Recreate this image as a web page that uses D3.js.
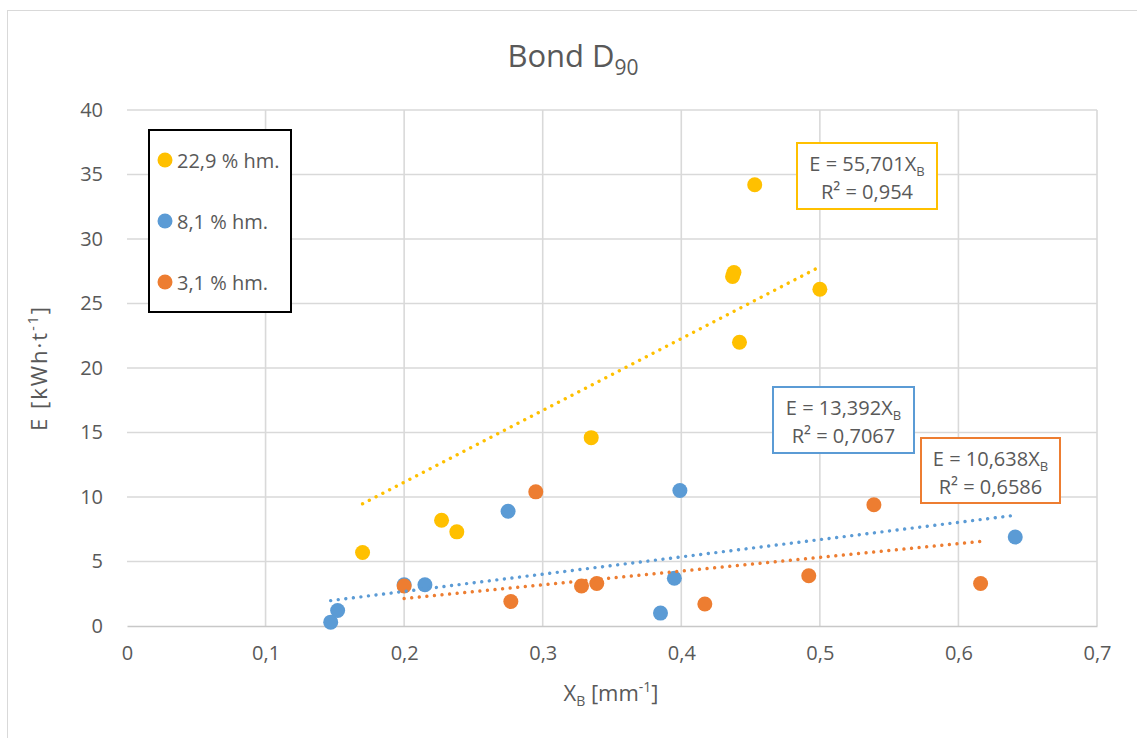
<!DOCTYPE html>
<html>
<head>
<meta charset="utf-8">
<script src="https://cdn.jsdelivr.net/npm/d3@7"></script>
<style>
  html, body { margin: 0; padding: 0; background: #fff; }
  svg { display: block; font-family: "Open Sans", sans-serif; }
</style>
</head>
<body>
<svg id="chart" width="1137" height="738"></svg>
<script>
// Series: specific energy E versus Bond parameter X_B, by moisture content
const seriesNames = ["22,9 % hm.", "8,1 % hm.", "3,1 % hm."];
const seriesColors = ["#FFC000", "#5B9BD5", "#ED7D31"];

const xHigh = [0.170, 0.227, 0.238, 0.335, 0.437, 0.438, 0.442, 0.453, 0.500];
const eHigh = [5.7, 8.2, 7.3, 14.6, 27.1, 27.4, 22.0, 34.2, 26.1];

const xMid = [0.147, 0.152, 0.200, 0.215, 0.275, 0.385, 0.395, 0.399, 0.641];
const eMid = [0.3, 1.2, 3.2, 3.2, 8.9, 1.0, 3.7, 10.5, 6.9];

const xLow = [0.200, 0.277, 0.295, 0.328, 0.339, 0.417, 0.492, 0.539, 0.616];
const eLow = [3.1, 1.9, 10.4, 3.1, 3.3, 1.7, 3.9, 9.4, 3.3];

// Linear trend lines through the origin (E = k·X_B) and their R²
const slopes = [55.701, 13.392, 10.638];
const slopeLabels = ["55,701", "13,392", "10,638"];
const r2Labels = ["0,954", "0,7067", "0,6586"];

const xTicks = [0, 0.1, 0.2, 0.3, 0.4, 0.5, 0.6, 0.7];
const yTicks = [0, 5, 10, 15, 20, 25, 30, 35, 40];

const xs = [xHigh, xMid, xLow];
const es = [eHigh, eMid, eLow];

const svg = d3.select("#chart");
const W = 1137, H = 738;
const plot = { left: 127, right: 1097, top: 110, bottom: 626 };
const textColor = "#595959";
const gridColor = "#D9D9D9";
const comma = d => String(d).replace(".", ",");

// Chart area frame
svg.append("rect")
  .attr("x", 7.5).attr("y", 10.5)
  .attr("width", W).attr("height", H)
  .attr("fill", "#fff").attr("stroke", gridColor).attr("stroke-width", 1);

const x = d3.scaleLinear().domain([0, 0.7]).range([plot.left, plot.right]);
const y = d3.scaleLinear().domain([0, 40]).range([plot.bottom, plot.top]);

// Grid
const grid = svg.append("g");
grid.selectAll("line.v").data(xTicks.slice(1)).join("line")
  .attr("x1", d => x(d)).attr("x2", d => x(d))
  .attr("y1", plot.top).attr("y2", plot.bottom)
  .attr("stroke", gridColor).attr("stroke-width", 1.6);
grid.selectAll("line.h").data(yTicks.slice(1)).join("line")
  .attr("x1", plot.left).attr("x2", plot.right)
  .attr("y1", d => y(d)).attr("y2", d => y(d))
  .attr("stroke", gridColor).attr("stroke-width", 1.6);

// Axes (labels only, no tick marks)
const xAxis = d3.axisBottom(x).tickValues(xTicks).tickFormat(comma).tickSize(0).tickPadding(20);
const gx = svg.append("g").attr("transform", `translate(0,${plot.bottom})`).call(xAxis);
gx.select(".domain").attr("stroke", "#C8C8C8").attr("stroke-width", 1.6);
gx.selectAll("text").attr("fill", textColor).style("font-size", "20px").style("font-family", "'Open Sans', sans-serif");

const yAxis = d3.axisLeft(y).tickValues(yTicks).tickFormat(comma).tickSize(0).tickPadding(24);
const gy = svg.append("g").attr("transform", `translate(${plot.left},0)`).call(yAxis);
gy.select(".domain").remove();
gy.selectAll("text").attr("fill", textColor).style("font-size", "20px").style("font-family", "'Open Sans', sans-serif");

// Points
xs.forEach((xv, i) => {
  svg.append("g").selectAll("circle").data(xv.map((v, j) => [v, es[i][j]])).join("circle")
    .attr("cx", d => x(d[0])).attr("cy", d => y(d[1])).attr("r", 7.5)
    .attr("fill", seriesColors[i]);
});

// Trend lines over each series' X_B range
xs.forEach((xv, i) => {
  const x0 = d3.min(xv), x1 = d3.max(xv);
  svg.append("line")
    .attr("x1", x(x0)).attr("y1", y(slopes[i] * x0))
    .attr("x2", x(x1)).attr("y2", y(slopes[i] * x1))
    .attr("stroke", seriesColors[i]).attr("stroke-width", 3.4)
    .attr("stroke-linecap", "round").attr("stroke-dasharray", "0.01 7.6");
});

// Equation labels
const eqBoxes = [
  { cx: 867, top: 143, w: 140, h: 66 },
  { cx: 843.5, top: 387, w: 141, h: 66 },
  { cx: 990.5, top: 438, w: 139, h: 65 }
];
eqBoxes.forEach((b, i) => {
  const g = svg.append("g");
  g.append("rect").attr("x", b.cx - b.w / 2).attr("y", b.top).attr("width", b.w).attr("height", b.h)
    .attr("fill", "#fff").attr("stroke", seriesColors[i]).attr("stroke-width", 2);
  const t1 = g.append("text").attr("x", b.cx).attr("y", b.top + 28).attr("text-anchor", "middle")
    .attr("fill", textColor).style("font-size", "20px");
  t1.append("tspan").text(`E = ${slopeLabels[i]}X`);
  t1.append("tspan").attr("dy", 5).style("font-size", "13px").text("B");
  g.append("text").attr("x", b.cx).attr("y", b.top + 56).attr("text-anchor", "middle")
    .attr("fill", textColor).style("font-size", "20px").text(`R² = ${r2Labels[i]}`);
});

// Legend
const lg = svg.append("g");
lg.append("rect").attr("x", 149).attr("y", 130).attr("width", 142).attr("height", 182)
  .attr("fill", "#fff").attr("stroke", "#000").attr("stroke-width", 2);
seriesNames.forEach((n, i) => {
  const cy = 160 + i * 61;
  lg.append("circle").attr("cx", 165).attr("cy", cy).attr("r", 7.5).attr("fill", seriesColors[i]);
  lg.append("text").attr("x", 177).attr("y", cy + 7.5).attr("fill", textColor)
    .style("font-size", "20px").text(n);
});

// Title
const title = svg.append("text").attr("x", 573).attr("y", 67).attr("text-anchor", "middle")
  .attr("fill", textColor).style("font-size", "31px");
title.append("tspan").text("Bond D");
title.append("tspan").attr("dy", 8).style("font-size", "21px").text("90");

// Axis titles
const xt = svg.append("text").attr("x", 611).attr("y", 701).attr("text-anchor", "middle")
  .attr("fill", textColor).style("font-size", "22px");
xt.append("tspan").text("X");
xt.append("tspan").attr("dy", 5).style("font-size", "14px").text("B");
xt.append("tspan").attr("dy", -5).text(" [mm");
xt.append("tspan").attr("dy", -9).style("font-size", "14px").text("-1");
xt.append("tspan").attr("dy", 9).text("]");

const yt = svg.append("text").attr("transform", `translate(47,${(plot.top + plot.bottom) / 2}) rotate(-90)`)
  .attr("text-anchor", "middle").attr("fill", textColor)
  .style("font-size", "22px").style("letter-spacing", "2px");
yt.append("tspan").text("E [kWh·t");
yt.append("tspan").attr("dy", -9).style("font-size", "14px").text("-1");
yt.append("tspan").attr("dy", 9).text("]");
</script>
</body>
</html>
